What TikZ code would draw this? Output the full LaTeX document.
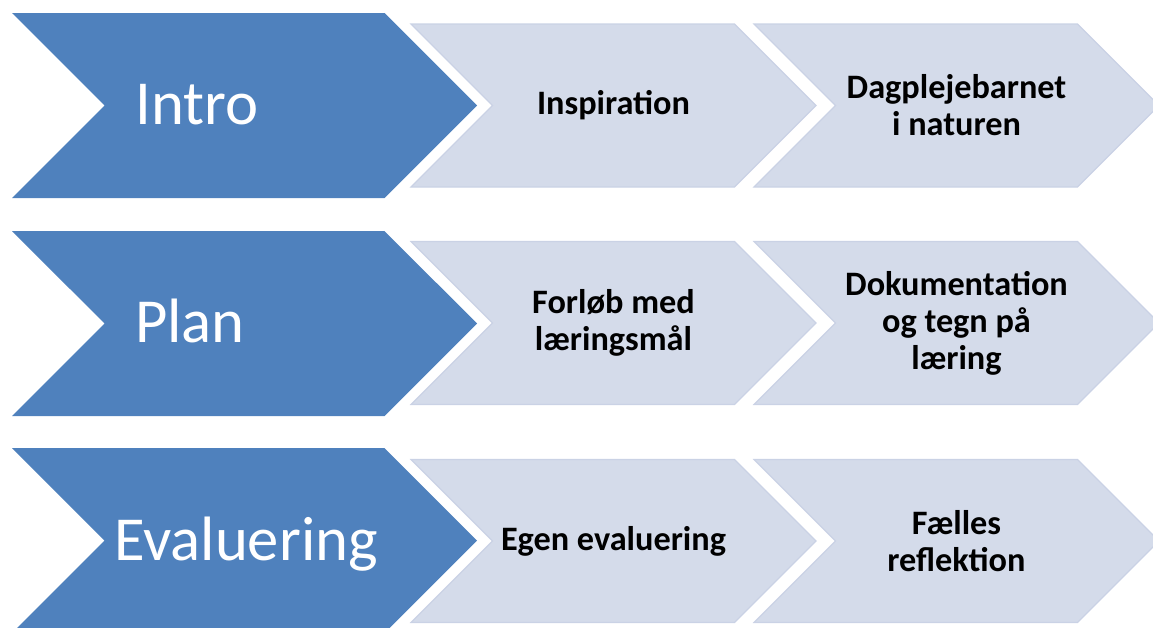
\documentclass[tikz,border=0pt]{standalone}
\usepackage{fontspec}
\setmainfont{Carlito}
\usetikzlibrary{shapes.symbols}

\definecolor{chevblue}{RGB}{79,129,189}
\definecolor{chevlight}{RGB}{212,219,234}
\definecolor{chevedge}{RGB}{202,210,229}

\begin{document}
\begin{tikzpicture}[x=0.75pt,y=-0.75pt,
    chev/.style={signal, signal from=west, signal to=east, signal pointer angle=90, inner sep=0pt},
    bigchev/.style={chev, fill=chevblue, minimum width=348.75pt, minimum height=138.75pt},
    smallchev/.style={chev, fill=chevlight, draw=chevedge, line width=0.9pt,
        minimum width=303.75pt, minimum height=122.25pt,
        align=center, font=\bfseries\fontsize{25.7}{27.75}\selectfont},
    bigtext/.style={text=white, font=\fontsize{47}{50}\selectfont, anchor=base}
  ]
    \useasboundingbox (0,0) rectangle (1153,628);
    \clip (0,0) rectangle (1153,628);

    \foreach \r/\y in {1/105.5, 2/323.5, 3/540.5} {\node[bigchev] (big-\r) at (244.5,\y) {};};

    \node[smallchev] (step-1-1) at (613.5,105.5) {Inspiration};
    \node[smallchev] (step-1-2) at (956.5,105.5) {Dagplejebarnet\\i naturen};
    \node[smallchev] (step-2-1) at (613.5,323)   {Forløb med\\læringsmål};
    \node[smallchev] (step-2-2) at (956.5,323)   {Dokumentation\\og tegn på\\læring};
    \node[smallchev] (step-3-1) at (613.5,541)   {Egen evaluering};
    \node[smallchev] (step-3-2) at (956.5,541)   {Fælles\\reflektion};

    \node[bigtext] (intro) at (197,124) {Intro};
    \node[bigtext] (plan)  at (190,342) {Plan};
    \node[bigtext] (eval)  at (246,560) {Evaluering};
\end{tikzpicture}
\end{document}
